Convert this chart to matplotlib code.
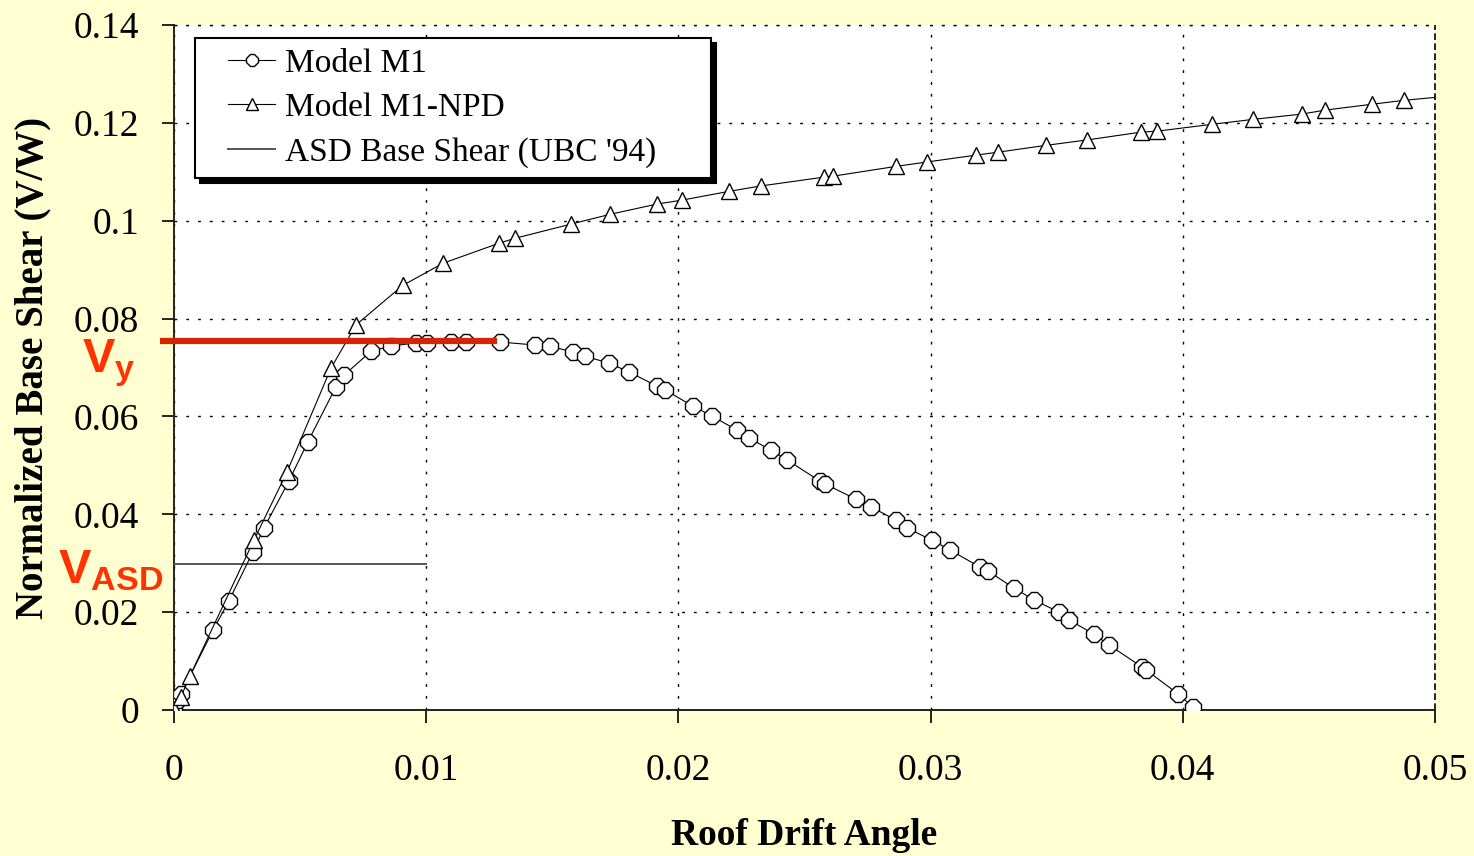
import numpy as np
import matplotlib
matplotlib.use("Agg")
import matplotlib.pyplot as plt
from matplotlib.legend_handler import HandlerLine2D

# Model M1 pushover curve (roof drift angle, V/W)
m1_drift = [0.0, 0.00016, 0.00028, 0.00155, 0.00218, 0.00313, 0.00357, 0.00456, 0.00531,
            0.00642, 0.00674, 0.00781, 0.00860, 0.00960, 0.01003, 0.01098, 0.01158, 0.01293,
            0.01431, 0.01491, 0.01582, 0.01630, 0.01725, 0.01804, 0.01915, 0.01947, 0.02058,
            0.02133, 0.02232, 0.02280, 0.02367, 0.02431, 0.02561, 0.02581, 0.02704, 0.02764,
            0.02863, 0.02906, 0.03006, 0.03077, 0.03196, 0.03228, 0.03331, 0.03410, 0.03509,
            0.03549, 0.03648, 0.03707, 0.03838, 0.03854, 0.03981, 0.04040]
m1_shear = [0.0, 0.0020, 0.0033, 0.0163, 0.0223, 0.0323, 0.0372, 0.0468, 0.0548,
            0.0660, 0.0684, 0.0733, 0.0744, 0.0750, 0.0750, 0.0752, 0.0752, 0.0752,
            0.0746, 0.0744, 0.0731, 0.0723, 0.0709, 0.0691, 0.0662, 0.0654, 0.0621,
            0.0601, 0.0572, 0.0556, 0.0531, 0.0511, 0.0468, 0.0462, 0.0431, 0.0415,
            0.0388, 0.0372, 0.0347, 0.0327, 0.0292, 0.0284, 0.0249, 0.0225, 0.0200,
            0.0184, 0.0155, 0.0133, 0.0088, 0.0082, 0.0033, 0.0006]

# Model M1-NPD pushover curve
npd_drift = [0.0, 0.00028, 0.00063, 0.00317, 0.00448, 0.00623, 0.00722, 0.00908, 0.01067,
             0.01289, 0.01352, 0.01574, 0.01729, 0.01915, 0.02014, 0.02201, 0.02327, 0.02577,
             0.02613, 0.02863, 0.02986, 0.03180, 0.03267, 0.03458, 0.03620, 0.03834, 0.03898,
             0.04116, 0.04278, 0.04473, 0.04564, 0.04750, 0.04877]
npd_shear = [0.0002, 0.0027, 0.0069, 0.0347, 0.0486, 0.0699, 0.0787, 0.0868, 0.0913,
             0.0954, 0.0964, 0.0993, 0.1013, 0.1034, 0.1042, 0.1060, 0.1071, 0.1089,
             0.1091, 0.1111, 0.1120, 0.1134, 0.1140, 0.1154, 0.1165, 0.1181, 0.1183,
             0.1197, 0.1207, 0.1218, 0.1226, 0.1238, 0.1246]
npd_end = (0.0500, 0.1252)

# ASD base shear (UBC '94) and yield shear
asd_drift = [0.0, 0.01]
asd_shear = [0.0298, 0.0298]
vy_drift = [-0.00056, 0.0128]
vy_shear = [0.0754, 0.0754]

x_ticks = [0, 0.01, 0.02, 0.03, 0.04, 0.05]
x_labels = ["0", "0.01", "0.02", "0.03", "0.04", "0.05"]
y_ticks = [0, 0.02, 0.04, 0.06, 0.08, 0.10, 0.12, 0.14]
y_labels = ["0", "0.02", "0.04", "0.06", "0.08", "0.1", "0.12", "0.14"]

bg = "#FFFFD2"
red_line = "#D52400"
red_text = "#FF3300"
serif = ["Liberation Serif", "DejaVu Serif"]

plt.rcParams["font.family"] = serif
plt.rcParams["mathtext.fontset"] = "custom"
plt.rcParams["mathtext.bf"] = "Liberation Sans:bold"
plt.rcParams["mathtext.rm"] = "Liberation Sans"

fig = plt.figure(figsize=(14.74, 8.56), dpi=100, facecolor=bg)
ax = fig.add_axes([0.118, 0.1706, 0.8555, 0.8002])
ax.set_facecolor("white")

l1, = ax.plot(m1_drift, m1_shear, color="black", lw=0.8, marker="8", markersize=12.5,
              markerfacecolor="white", markeredgecolor="black", markeredgewidth=1.0,
              label="Model M1", zorder=4)
l2, = ax.plot(npd_drift + [npd_end[0]], npd_shear + [npd_end[1]], color="black", lw=0.8,
              marker="^", markersize=12, markevery=list(range(len(npd_drift))),
              markerfacecolor="white", markeredgecolor="black", markeredgewidth=1.0,
              label="Model M1-NPD", zorder=4)
l3, = ax.plot(asd_drift, asd_shear, color="#555555", lw=1.4,
              label="ASD Base Shear (UBC '94)", zorder=3)
ax.plot(vy_drift, vy_shear, color=red_line, lw=4.5, solid_capstyle="butt",
        clip_on=False, zorder=5)

ax.set_xlim(0, 0.05)
ax.set_ylim(0, 0.14)
ax.set_xticks(x_ticks)
ax.set_xticklabels(x_labels)
ax.set_yticks(y_ticks)
ax.set_yticklabels(y_labels)
ax.tick_params(axis="both", direction="out", length=9, width=1.2, labelsize=27)
ax.tick_params(axis="x", pad=22)
ax.tick_params(axis="y", pad=16)

ax.grid(True, color="black", lw=1.0, linestyle=(0, (2, 6.5)))
ax.set_axisbelow(True)
for side in ["top", "right"]:
    ax.spines[side].set_visible(False)
for side in ["left", "bottom"]:
    ax.spines[side].set_linewidth(1.4)
    ax.spines[side].set_color("#222222")
ax.axhline(0.14, color="black", lw=1.0, linestyle=(0, (2, 6.5)), clip_on=False)
ax.axvline(0.05, color="black", lw=1.2, linestyle=(0, (4, 2)), clip_on=False)

ax.set_xlabel("Roof Drift Angle", fontsize=27, fontweight="bold", labelpad=22)
ax.set_ylabel("Normalized Base Shear (V/W)", fontsize=28, fontweight="bold", labelpad=16)

pad_handler = HandlerLine2D(xpad=0.7)
leg = ax.legend(handles=[l1, l2, l3], handler_map={l1: pad_handler, l2: pad_handler, l3: pad_handler},
                loc="upper left", bbox_to_anchor=(0.0167, 0.981, 0.4092, 0.0), mode="expand",
                borderaxespad=0, fontsize=24, frameon=True, fancybox=False, markerscale=0.7,
                handlelength=2.1, handletextpad=0.3, labelspacing=0.42,
                borderpad=0.3, shadow={"color": "black", "alpha": 1, "ox": 3.5, "oy": -3.5})
leg.get_frame().set_edgecolor("black")
leg.get_frame().set_linewidth(1.5)
leg.set_zorder(10)

# V_y and V_ASD annotations in the left margin
fig.text(0.0556, 0.5650, r"$\mathbf{V_y}$", color=red_text, fontsize=35,
         ha="left", va="baseline")
fig.text(0.0395, 0.3189, r"$\mathbf{V_{ASD}}$", color=red_text, fontsize=35,
         ha="left", va="baseline")

fig.savefig("out.png", dpi=100, facecolor=bg)
